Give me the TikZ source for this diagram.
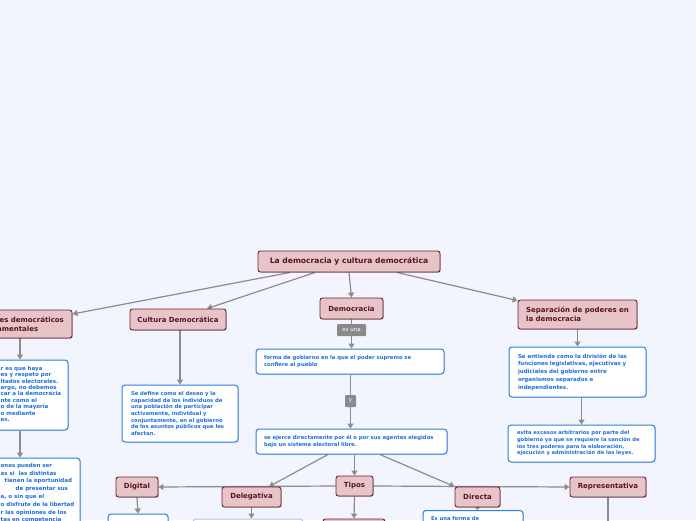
\documentclass[tikz,border=0pt]{standalone}
\usepackage{fontspec}
\setmainfont{DejaVu Sans}
\usetikzlibrary{arrows.meta,shadows}
\definecolor{bgc}{HTML}{F2F5FD}
\definecolor{pinkfill}{HTML}{E6C4C8}
\definecolor{pinkborder}{HTML}{6E1F2E}
\definecolor{pinktext}{HTML}{5C1222}
\definecolor{bblue}{HTML}{2D7FE0}
\definecolor{lblue}{HTML}{A9C8F0}
\definecolor{btext}{HTML}{1E6FD9}
\definecolor{conngray}{HTML}{8C8C8C}
\definecolor{labgray}{HTML}{8A8A8A}
\pgfdeclarelayer{back}
\pgfdeclarelayer{edges}
\pgfsetlayers{back,edges,main}
\begin{document}
\begin{tikzpicture}[x=1pt,y=-1pt,
  pnode/.style={draw=pinkborder, fill=pinkfill, line width=0.9pt, rounded corners=2.5pt,
    text=pinktext, font=\bfseries\fontsize{7}{8.6}\selectfont, inner sep=0pt, align=center,
    drop shadow={shadow xshift=0.8pt, shadow yshift=-0.8pt, opacity=0.25, fill=black}},
  bnode/.style={draw=bblue, fill=white, line width=1pt, rounded corners=3pt,
    text=btext, font=\bfseries\fontsize{5.3}{6.6}\selectfont, align=left, inner ysep=0pt,
    drop shadow={shadow xshift=0.6pt, shadow yshift=-0.6pt, opacity=0.15, fill=black}},
  btxt/.style={text=btext, inner sep=0pt, align=left},
  lab/.style={fill=labgray, text=white, font=\fontsize{5.5}{6.5}\selectfont, rounded corners=1pt,
    inner sep=0pt, minimum height=12},
  conn/.style={draw=conngray, line width=1.2pt, -{Triangle[length=5pt,width=6pt]}},
  tinytip/.style={-{Triangle[length=3pt,width=5pt]}}
]
\useasboundingbox (0,0) rectangle (696,520);
\begin{pgfonlayer}{back}
\fill[bgc] (0,0) rectangle (696,520);
\end{pgfonlayer}

% main nodes
\node[pnode, minimum width=182, minimum height=21, font=\bfseries\fontsize{7.6}{9}\selectfont] (root) at (349,261.5) {La democracia y cultura democrática};
\node[pnode, minimum width=63, minimum height=21] (dem) at (351.5,308.5) {Democracia};
\node[lab, minimum width=29] (esuna) at (351.5,330) {es una};
\node[bnode, minimum height=25, text width=172, inner xsep=8] (forma) at (350,361.5) {forma de gobierno en la que el poder supremo se\\confiere al pueblo};
\node[lab, minimum width=11] (ylab) at (350.5,401) {y};
\node[bnode, minimum height=25, text width=175, inner xsep=8] (ejerce) at (351.5,441.5) {se ejerce directamente por él o por sus agentes elegidos\\bajo un sistema electoral libre.};
\node[pnode, minimum width=37, minimum height=20] (tipos) at (354.5,486) {Tipos};
\node[pnode, minimum width=59, minimum height=20] (deleg) at (251.5,497) {Delegativa};
\node[pnode, minimum width=42, minimum height=20] (digital) at (137,487) {Digital};
\node[pnode, minimum width=45, minimum height=20] (directa) at (477.5,497) {Directa};
\node[pnode, minimum width=76, minimum height=20] (repr) at (608,487) {Representativa};

\node[pnode, minimum width=96, minimum height=21] (cult) at (178,319.5) {Cultura Democrática};
\node[bnode, minimum height=57, text width=98, inner xsep=9] (cultbox) at (180,413.5) {Se define como el deseo y la\\capacidad de los individuos de\\una población de participar\\activamente, individual y\\conjuntamente, en el gobierno\\de los asuntos públicos que les\\afectan.};

\node[pnode, minimum height=29, minimum width=119, align=left] (sep) at (577.5,314.5) {Separación de poderes en\\la democracia};
\node[bnode, minimum height=50, text width=119, inner xsep=9, font=\bfseries\fontsize{5.5}{7.7}\selectfont] (sepbox) at (577.5,372) {Se entiende como la división de las\\funciones legislativas, ejecutivas y\\judiciales del gobierno entre\\organismos separados e\\independientes.};
\node[bnode, minimum height=37, text width=129, inner xsep=9, font=\bfseries\fontsize{5.2}{6.7}\selectfont] (evita) at (581.5,443.5) {evita excesos arbitrarios por parte del\\gobierno ya que se requiere la sanción de\\los tres poderes para la elaboración,\\ejecución y administración de las leyes.};

% left, partly cut off by the picture's edge
\node[pnode, minimum height=28, minimum width=101, align=left] (valores) at (21.5,324) {Valores democráticos\\fundamentales};
\node[bnode, minimum width=96, minimum height=70] (vbox) at (20,395) {};
\node[btxt, anchor=north west, font=\bfseries\fontsize{5.5}{6.4}\selectfont] (vtext) at (0.5,366) {r es que haya\\es y respeto por\\ltados electorales.\\argo, no debemos\\car a la democracia\\nte como el\\o de la mayoría\\o mediante\\es.};
\node[bnode, minimum width=120, minimum height=80] (vbox2) at (20,498) {};
\node[btxt, anchor=north west, font=\bfseries\fontsize{5.5}{7.8}\selectfont] (v2text) at (0.5,463) {ones pueden ser\\as si \ las distintas\\\hspace*{4pt}tienen la oportunidad\\\hspace*{15pt}de presentar sus\\a, o sin que el\\o disfrute de la libertad\\r las opiniones de los\\tas en competencia};

% bottom, partly cut off
\node[bnode, minimum width=60, minimum height=30] (digchild) at (138,529) {};
\node[bnode, draw=lblue, minimum width=110, minimum height=30] (delchild) at (248,534) {};
\node[pnode, minimum width=62, minimum height=30] (tipchild) at (354,534) {};
\node[bnode, anchor=north, text width=84, inner xsep=8, inner ysep=6] (dirchild) at (473,510) {Es una forma de};
\coordinate (reprchild) at (608,545);

\begin{pgfonlayer}{edges}
\draw[conn] ([xshift=-59pt]root.south) -- ([yshift=10pt]valores.east);
\draw[conn] ([xshift=-34pt]root.south) -- ([xshift=29pt]cult.north);
\draw[conn] (root.south) -- (dem.north);
\draw[conn] ([xshift=48pt]root.south) -- ([yshift=-1pt]sep.north west);
\draw[conn] (esuna |- dem.south) -- (esuna |- forma.north);
\draw[conn] (ylab |- forma.south) -- (ylab |- ejerce.north);
\draw[conn] (tipos |- ejerce.south) -- (tipos.north);
\draw[conn] ([xshift=-23.5pt]ejerce.south) -- ([xshift=17.5pt]deleg.north);
\draw[conn] ([xshift=28.5pt]ejerce.south) -- (directa.north west);
\draw[conn] (tipos.west) -- (digital.east);
\draw[conn] (tipos.east) -- (repr.west);
\draw[conn] (tipos.south) -- (tipchild.north);
\draw[conn] (deleg.south) -- (deleg.south |- delchild.north);
\draw[conn] (digital.south) -- (digchild.north);
\draw[conn, tinytip] (directa.south) -- (directa.south |- dirchild.north);
\draw[conn] (repr.south) -- (reprchild);
\draw[conn] (cultbox.north |- cult.south) -- (cultbox.north);
\draw[conn] (sep.south) -- (sepbox.north);
\draw[conn] (evita.north |- sepbox.south) -- (evita.north);
\draw[conn] (vbox.north |- valores.south) -- (vbox.north);
\draw[conn] (vbox2.north |- vbox.south) -- (vbox2.north);
\end{pgfonlayer}
\end{tikzpicture}
\end{document}
